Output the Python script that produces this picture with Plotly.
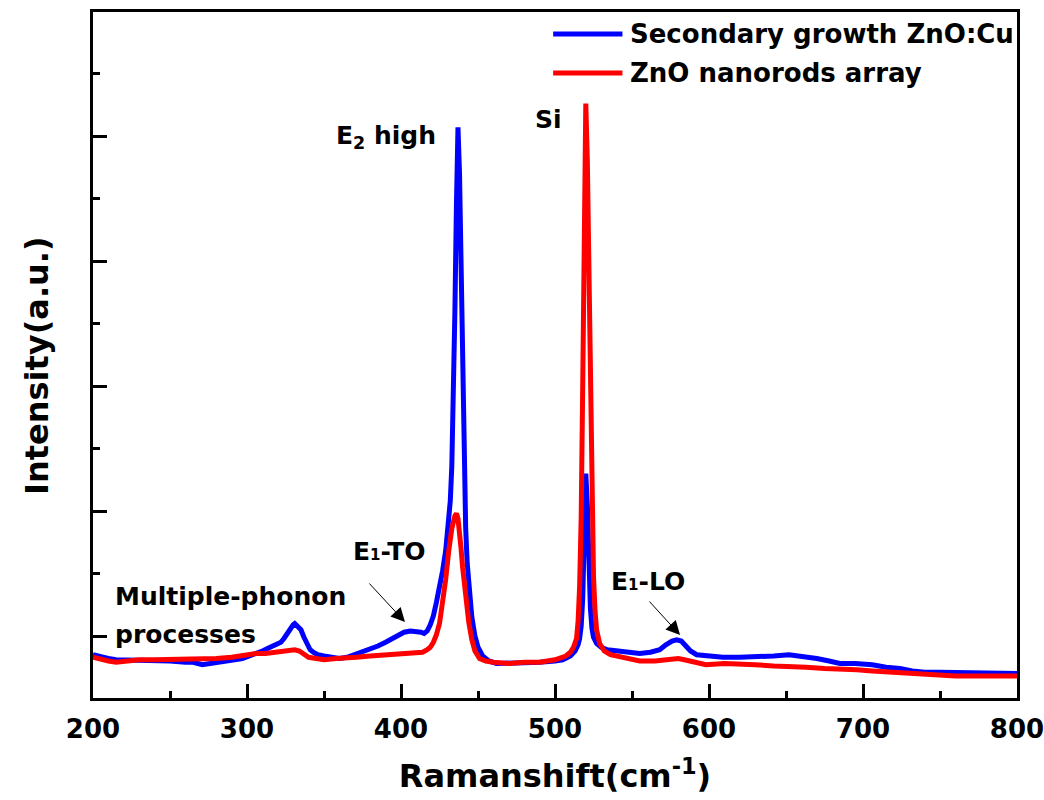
import plotly.graph_objects as go

# ---- data (Raman shift in cm^-1, intensity in arbitrary units) ----
blue_x = [200, 205, 210, 215, 220, 230, 240, 250, 260, 265, 271, 278, 285, 292, 297, 302, 306, 310,
          315, 319, 322, 324, 326, 328, 330, 331, 333, 335, 337, 339, 341, 343, 346, 350, 355, 360,
          365, 370, 375, 380, 385, 390, 394, 398, 402, 406, 410, 413, 415, 417, 419, 421, 423, 425,
          427, 429, 431, 432, 433, 434, 435, 436, 437, 438, 439, 440, 441, 442, 443, 444, 445, 446,
          448, 450, 453, 457, 462, 470, 480, 490, 500, 505, 510, 513, 515, 516, 517, 518, 519, 520,
          521, 522, 523, 524, 525, 527, 530, 534, 540, 548, 555, 562, 568, 572, 576, 579, 582, 585,
          588, 592, 600, 609, 620, 631, 642, 652, 660, 670, 678, 685, 695, 706, 715, 724, 732, 740,
          750, 761, 772, 783, 790, 800]
blue_y = [0.85, 0.83, 0.82, 0.81, 0.81, 0.80, 0.80, 0.80, 0.79, 0.79, 0.77, 0.78, 0.80, 0.81, 0.82,
          0.84, 0.86, 0.88, 0.91, 0.93, 0.95, 0.98, 1.02, 1.06, 1.09, 1.10, 1.08, 1.05, 0.99, 0.94,
          0.89, 0.87, 0.85, 0.84, 0.83, 0.82, 0.83, 0.85, 0.87, 0.90, 0.92, 0.95, 0.98, 1.01, 1.03,
          1.04, 1.04, 1.03, 1.02, 1.04, 1.09, 1.16, 1.27, 1.38, 1.52, 1.68, 1.90, 2.08, 2.36, 2.85,
          3.60, 4.45, 5.07, 4.70, 3.90, 3.00, 2.30, 1.86, 1.58, 1.39, 1.26, 1.15, 1.00, 0.91, 0.84,
          0.80, 0.78, 0.78, 0.78, 0.79, 0.80, 0.81, 0.84, 0.88, 0.93, 0.98, 1.08, 1.30, 1.80, 2.30,
          2.05, 1.55, 1.22, 1.06, 0.99, 0.94, 0.91, 0.89, 0.88, 0.87, 0.86, 0.87, 0.89, 0.93, 0.96,
          0.97, 0.96, 0.92, 0.88, 0.85, 0.84, 0.83, 0.83, 0.83, 0.84, 0.85, 0.84, 0.82, 0.80, 0.78,
          0.78, 0.77, 0.75, 0.74, 0.72, 0.71, 0.71, 0.71, 0.71, 0.70, 0.70, 0.70]

red_x = [200, 205, 210, 215, 220, 230, 240, 250, 260, 270, 280, 290, 300, 306, 312, 319, 324, 328,
         331, 334, 337, 340, 345, 350, 358, 365, 371, 380, 390, 400, 408, 414, 417, 419, 421, 423,
         425, 427, 429, 431, 433, 435, 436, 437, 438, 439, 440, 441, 442, 443, 444, 446, 448, 451,
         455, 460, 470, 480, 490, 500, 503, 507, 510, 512, 514, 515, 516, 517, 518, 519, 520, 521,
         522, 523, 524, 525, 526, 527, 529, 532, 536, 545, 555, 565, 572, 577, 580, 584, 590, 598,
         610, 620, 630, 642, 652, 663, 675, 685, 696, 706, 717, 728, 740, 750, 760, 772, 785, 800]
red_y = [0.83, 0.81, 0.80, 0.79, 0.80, 0.81, 0.81, 0.81, 0.81, 0.81, 0.82, 0.83, 0.85, 0.86, 0.86,
         0.87, 0.88, 0.89, 0.89, 0.88, 0.85, 0.83, 0.82, 0.81, 0.82, 0.82, 0.83, 0.84, 0.85, 0.86,
         0.86, 0.87, 0.89, 0.91, 0.95, 1.01, 1.10, 1.25, 1.45, 1.68, 1.86, 1.96, 1.98, 1.94, 1.84,
         1.70, 1.55, 1.42, 1.31, 1.20, 1.11, 0.97, 0.88, 0.82, 0.80, 0.79, 0.78, 0.79, 0.79, 0.81,
         0.82, 0.84, 0.87, 0.91, 0.98, 1.12, 1.40, 1.95, 3.00, 4.25, 5.26, 4.80, 3.80, 2.75, 1.95,
         1.48, 1.20, 1.05, 0.94, 0.88, 0.85, 0.83, 0.80, 0.80, 0.81, 0.82, 0.82, 0.81, 0.79, 0.77,
         0.78, 0.78, 0.77, 0.76, 0.76, 0.75, 0.74, 0.74, 0.73, 0.72, 0.71, 0.70, 0.69, 0.68, 0.68,
         0.68, 0.68, 0.68]

x_ticks = [200, 300, 400, 500, 600, 700, 800]

series_names = ["Secondary growth ZnO:Cu", "ZnO nanorods array"]
series_colors = ["#0000FF", "#FF0000"]

FONT = "DejaVu Sans"
LW = 5

fig = go.Figure()
fig.add_trace(go.Scatter(x=blue_x, y=blue_y, mode="lines", name=series_names[0],
                         line=dict(color=series_colors[0], width=LW), showlegend=False))
fig.add_trace(go.Scatter(x=red_x, y=red_y, mode="lines", name=series_names[1],
                         line=dict(color=series_colors[1], width=LW), showlegend=False))

# manual legend (long line samples as in the reference)
leg_rows = [0.968, 0.911]
for name, col, yy in zip(series_names, series_colors, leg_rows):
    fig.add_shape(type="line", xref="paper", yref="paper", x0=0.498, x1=0.573, y0=yy, y1=yy,
                  line=dict(color=col, width=LW))
    fig.add_annotation(xref="paper", yref="paper", x=0.579, y=yy, text=name, showarrow=False,
                       xanchor="left", yanchor="middle",
                       font=dict(family=FONT, size=26, color="black", weight="bold"))

txt_font = dict(family=FONT, size=25, color="black", weight="bold")
small = "<span style='font-size:15px'>1</span>"
labels = [
    (390.3, 4.99, "E<sub>2</sub> high", "center"),
    (496.1, 5.13, "Si", "center"),
    (392.5, 1.68, "E" + small + "-TO", "center"),
    (560.1, 1.44, "E" + small + "-LO", "center"),
    (213.0, 1.32, "Multiple-phonon", "left"),
    (213.0, 1.01, "processes", "left"),
]
for x, y, t, xa in labels:
    fig.add_annotation(x=x, y=y, text=t, showarrow=False, xanchor=xa, yanchor="middle", font=txt_font)

# arrows
for tipx, tipy, ax, ay in [(402.6, 1.112, -37, -40), (581.2, 1.008, -32, -35)]:
    fig.add_annotation(x=tipx, y=tipy, text="", showarrow=True, ax=ax, ay=ay,
                       arrowhead=2, arrowsize=2.8, arrowwidth=1, arrowcolor="black")

# y-axis title placed as in the reference
fig.add_annotation(xref="paper", yref="paper", x=-0.0606, y=0.484, text="Intensity(a.u.)",
                   textangle=-90, showarrow=False, xanchor="center", yanchor="middle",
                   font=dict(family=FONT, size=32, color="black", weight="bold"))

axis_common = dict(showline=True, linecolor="black", linewidth=3, mirror=True, showgrid=False,
                   zeroline=False, ticks="inside", tickcolor="black", tickwidth=3, automargin=False)

fig.update_layout(
    width=1044, height=800,
    margin=dict(l=93, r=27, t=12, b=102),
    paper_bgcolor="white", plot_bgcolor="white",
    font=dict(family=FONT, color="black", weight="bold"),
    xaxis=dict(range=[200, 800], tickmode="array", tickvals=x_ticks,
               ticktext=[str(v) for v in x_ticks], ticklen=14,
               minor=dict(ticks="inside", dtick=50, ticklen=7, tickwidth=3, tickcolor="black"),
               tickfont=dict(family=FONT, size=26, color="black", weight="bold"),
               ticklabelstandoff=6, ticklabeloverflow="allow",
               title=dict(text="Ramanshift(cm<sup>-1</sup>)", standoff=22,
                          font=dict(family=FONT, size=32, color="black", weight="bold")),
               **axis_common),
    yaxis=dict(range=[0.504, 5.992], tick0=0, dtick=1, ticklen=14, showticklabels=False,
               minor=dict(ticks="inside", dtick=0.5, ticklen=7, tickwidth=3, tickcolor="black"),
               **axis_common),
)

fig.write_html("out.html")
